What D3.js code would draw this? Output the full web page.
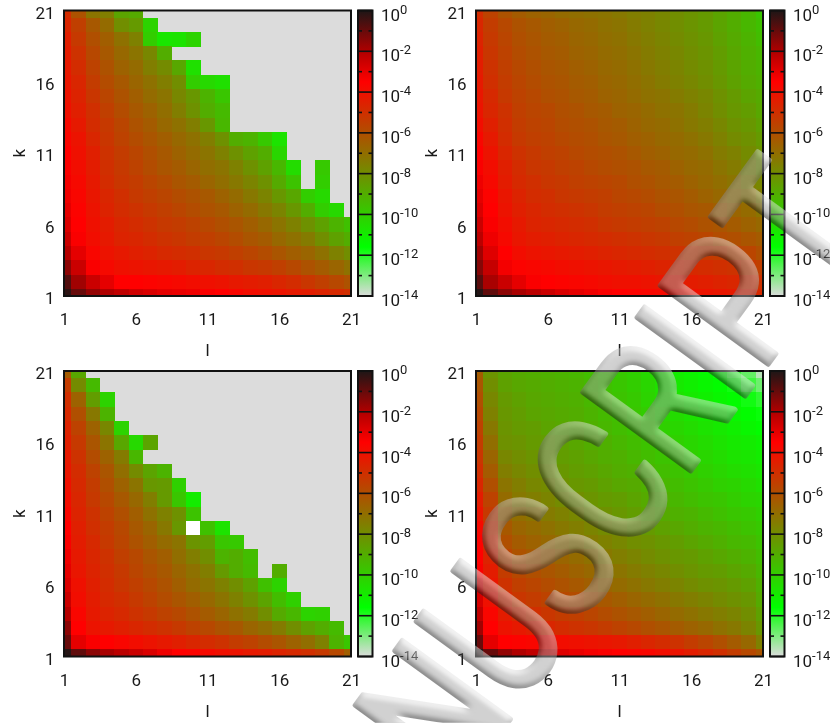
<!DOCTYPE html>
<html>
<head>
<meta charset="utf-8">
<title>heatmaps</title>
<style>
body { margin: 0; background: white; }
svg { display: block; }
text { font-family: Roboto, sans-serif; fill: #1a1a1a; }
.tick text { font-size: 17px; }
.soft { filter: blur(0.45px); }
</style>
</head>
<body>
<svg width="830" height="723"></svg>
<script src="https://cdnjs.cloudflare.com/ajax/libs/d3/7.8.5/d3.min.js"></script>
<script>
// every cell is -log10(value), rows run from k=21 down to k=1, columns from l=1
// 14 = off the bottom of the scale (grey), null = no value (white)
// rows shorter than 21 just stop where the grey area starts
var topLeft = [
  [4.9,6.1,7.2,7.5,8.7,8.9],
  [4.7,5.5,6.3,6.9,8.0,8.4,10.2],
  [4.5,5.3,6.0,6.5,7.1,7.6,10.0,10.8,10.7,10.2],
  [4.4,5.1,5.8,6.3,6.8,7.2,7.8,9.0],
  [4.3,4.9,5.6,6.1,6.6,6.9,7.5,7.9,8.8,10.6],
  [4.2,4.7,5.4,5.9,6.3,6.7,7.1,7.5,8.0,10.0,10.4,10.6],
  [4.1,4.6,5.2,5.7,6.1,6.5,6.9,7.2,7.8,8.3,9.2,9.8],
  [4.0,4.5,5.0,5.5,5.9,6.3,6.6,7.0,7.5,8.1,9.0,9.4],
  [3.8,4.3,4.9,5.3,5.7,6.1,6.4,6.8,7.1,7.5,8.3,9.3],
  [3.7,4.1,4.7,5.2,5.6,5.9,6.2,6.5,6.8,7.1,7.5,8.1,9.0,9.2,9.9,10.7],
  [3.5,4.0,4.5,5.1,5.4,5.7,6.0,6.3,6.6,6.9,7.2,7.6,8.1,8.6,9.0,10.3],
  [3.4,3.9,4.4,5.0,5.3,5.6,5.9,6.2,6.4,6.7,7.0,7.2,7.6,8.1,8.6,9.3,10.5,14,9.9],
  [3.3,3.8,4.3,4.9,5.2,5.4,5.7,5.9,6.2,6.4,6.7,7.0,7.3,7.7,8.1,8.9,9.7,14,10.0],
  [3.2,3.7,4.2,4.7,5.0,5.3,5.5,5.7,5.9,6.1,6.3,6.6,6.9,7.3,7.7,8.3,8.8,10.0,10.4],
  [3.0,3.6,4.1,4.6,4.9,5.1,5.3,5.5,5.7,5.9,6.1,6.3,6.6,6.9,7.3,7.7,8.3,9.0,10.0,10.4],
  [2.8,3.5,4.0,4.4,4.7,4.9,5.1,5.3,5.4,5.6,5.8,6.0,6.2,6.5,6.8,7.2,7.6,8.1,8.6,9.2,9.6],
  [2.5,3.4,3.9,4.3,4.6,4.7,4.9,5.1,5.2,5.4,5.5,5.7,5.9,6.2,6.4,6.8,7.1,7.4,8.0,8.6,9.0],
  [2.1,3.0,3.7,4.1,4.3,4.5,4.6,4.8,4.9,5.0,5.2,5.3,5.5,5.7,5.9,6.2,6.5,6.7,7.1,7.6,8.0],
  [1.5,2.5,3.4,3.8,4.0,4.1,4.2,4.3,4.4,4.6,4.7,4.9,5.0,5.2,5.3,5.5,5.8,6.1,6.4,6.7,7.1],
  [0.7,1.8,2.5,3.0,3.5,3.5,3.6,3.7,3.8,3.9,4.0,4.1,4.3,4.4,4.5,4.7,4.9,5.2,5.5,5.8,6.1],
  [0.2,1.0,1.6,2.0,2.3,2.6,2.8,3.0,3.1,3.2,3.4,3.5,3.7,3.9,4.0,4.1,4.3,4.4,4.6,4.8,5.0]
];

var topRight = [
  [4.9,5.6,6.1,6.4,6.6,6.7,6.9,7.0,7.1,7.2,7.3,7.5,7.6,7.8,8.0,8.2,8.4,8.7,9.0,9.3,9.8],
  [4.7,5.4,5.8,6.1,6.3,6.5,6.6,6.8,6.9,7.1,7.2,7.4,7.6,7.8,8.0,8.2,8.4,8.7,9.0,9.3,9.6],
  [4.6,5.3,5.7,6.0,6.2,6.4,6.5,6.7,6.8,7.0,7.1,7.3,7.5,7.7,7.9,8.1,8.3,8.6,8.9,9.2,9.5],
  [4.5,5.2,5.6,5.9,6.1,6.3,6.4,6.6,6.7,6.9,7.0,7.2,7.4,7.6,7.8,8.0,8.2,8.5,8.8,9.1,9.3],
  [4.4,5.1,5.5,5.8,6.0,6.2,6.3,6.5,6.6,6.8,6.9,7.1,7.3,7.5,7.7,7.9,8.1,8.4,8.7,9.0,9.2],
  [4.3,5.0,5.4,5.7,5.9,6.1,6.2,6.4,6.5,6.7,6.8,7.0,7.2,7.4,7.6,7.8,8.0,8.3,8.6,8.9,9.1],
  [4.2,4.8,5.3,5.6,5.8,6.0,6.1,6.3,6.4,6.6,6.7,6.9,7.1,7.2,7.4,7.6,7.8,8.1,8.4,8.7,8.9],
  [4.1,4.7,5.1,5.5,5.7,5.8,6.0,6.1,6.3,6.4,6.6,6.7,6.9,7.1,7.2,7.4,7.7,8.0,8.3,8.5,8.8],
  [3.9,4.5,5.0,5.4,5.6,5.7,5.9,6.0,6.1,6.3,6.4,6.6,6.8,6.9,7.1,7.3,7.5,7.8,8.1,8.3,8.6],
  [3.7,4.3,4.9,5.3,5.5,5.6,5.8,5.9,6.0,6.2,6.3,6.5,6.6,6.8,6.9,7.1,7.3,7.6,7.9,8.1,8.4],
  [3.5,4.1,4.7,5.1,5.3,5.5,5.6,5.8,5.9,6.0,6.1,6.3,6.5,6.6,6.8,6.9,7.1,7.4,7.6,7.9,8.2],
  [3.4,3.9,4.5,4.9,5.2,5.3,5.5,5.6,5.8,5.9,6.0,6.1,6.3,6.4,6.6,6.8,6.9,7.2,7.4,7.7,8.0],
  [3.2,3.8,4.4,4.8,5.0,5.2,5.3,5.5,5.6,5.7,5.8,6.0,6.1,6.3,6.4,6.6,6.8,7.0,7.2,7.5,7.8],
  [3.0,3.6,4.2,4.6,4.9,5.0,5.2,5.3,5.4,5.5,5.7,5.8,5.9,6.1,6.2,6.4,6.6,6.8,7.0,7.2,7.5],
  [2.8,3.5,4.1,4.5,4.7,4.9,5.0,5.1,5.2,5.4,5.5,5.6,5.7,5.9,6.0,6.2,6.3,6.5,6.7,6.9,7.2],
  [2.5,3.4,3.9,4.3,4.6,4.7,4.8,4.9,5.0,5.2,5.3,5.4,5.5,5.6,5.8,5.9,6.1,6.2,6.4,6.6,6.8],
  [2.2,3.2,3.8,4.2,4.4,4.5,4.6,4.7,4.8,4.9,5.0,5.1,5.2,5.3,5.5,5.6,5.7,5.9,6.0,6.2,6.4],
  [1.8,2.9,3.5,3.9,4.1,4.2,4.3,4.4,4.5,4.6,4.7,4.8,4.9,5.0,5.1,5.2,5.3,5.4,5.6,5.7,6.0],
  [1.4,2.4,3.3,3.6,3.7,3.8,3.9,4.0,4.1,4.2,4.3,4.4,4.5,4.6,4.7,4.8,4.9,5.0,5.1,5.3,5.5],
  [0.8,1.9,2.5,3.0,3.4,3.5,3.6,3.7,3.8,3.9,4.0,4.0,4.1,4.2,4.3,4.4,4.5,4.6,4.7,4.9,5.1],
  [0.1,0.9,1.5,1.9,2.2,2.5,2.8,3.0,3.2,3.4,3.5,3.6,3.7,3.8,3.9,4.0,4.1,4.2,4.3,4.5,4.8]
];

var bottomLeft = [
  [6.4,8.8],
  [5.4,7.9,9.4],
  [5.0,6.6,8.5,10.2],
  [4.8,6.0,7.3,9.2],
  [4.6,5.6,6.6,7.8,10.2],
  [4.5,5.3,6.2,7.2,8.8,10.4,8.7],
  [4.3,5.1,5.9,6.6,7.4,9.3],
  [4.2,4.9,5.6,6.2,7.0,7.9,8.7,9.2],
  [4.0,4.8,5.4,6.0,6.6,7.2,8.3,8.4,10.1],
  [3.9,4.7,5.3,5.8,6.3,6.8,7.5,8.4,9.8,11.0],
  [3.7,4.6,5.1,5.6,6.0,6.5,7.1,7.6,8.1,9.7],
  [3.5,4.5,5.0,5.4,5.8,6.3,6.7,7.3,8.3,null,9.6,10.7],
  [3.4,4.4,4.8,5.3,5.7,6.1,6.5,6.9,7.2,8.2,8.5,9.8,9.9],
  [3.2,4.3,4.7,5.1,5.5,5.8,6.2,6.5,7.0,7.5,8.0,9.2,9.0,9.5],
  [3.0,4.2,4.6,5.0,5.3,5.7,6.0,6.3,6.7,7.1,7.5,8.4,9.0,9.4,14,9.0],
  [2.8,4.0,4.5,4.9,5.2,5.5,5.8,6.1,6.5,6.9,7.2,7.6,8.0,8.6,9.6,10.2],
  [2.5,3.9,4.4,4.8,5.0,5.3,5.6,5.9,6.2,6.5,6.8,7.2,7.6,8.1,8.7,9.5,10.1],
  [2.1,3.7,4.3,4.6,4.8,5.1,5.3,5.6,5.8,6.1,6.4,6.7,7.1,7.4,8.0,8.9,9.3,10.2,10.1],
  [1.5,3.5,4.1,4.3,4.5,4.7,4.9,5.1,5.3,5.6,5.8,6.1,6.3,6.7,7.0,7.4,8.0,8.6,9.0,9.4],
  [1.0,3.0,3.4,3.5,3.7,3.9,4.1,4.3,4.5,4.7,4.9,5.1,5.4,5.6,5.9,6.2,6.6,7.0,7.6,9.2,9.8],
  [0.1,0.9,1.5,1.9,2.2,2.5,2.8,3.2,3.5,3.6,3.8,4.0,4.1,4.3,4.4,4.6,4.8,5.0,5.3,5.8,6.5]
];

var bottomRight = [
  [6.4,8.2,8.7,8.9,9.0,9.1,9.2,9.3,9.5,9.7,9.9,10.1,10.4,10.7,11.0,11.2,11.4,11.7,12.1,12.7,13.6],
  [6.2,8.0,8.6,8.8,8.9,9.0,9.1,9.2,9.4,9.6,9.8,10.0,10.3,10.6,10.9,11.1,11.3,11.5,11.8,12.3,12.8],
  [6.0,7.8,8.4,8.6,8.8,8.9,9.0,9.1,9.3,9.5,9.7,9.9,10.2,10.5,10.7,10.9,11.1,11.3,11.5,11.8,12.1],
  [5.8,7.6,8.3,8.5,8.7,8.8,8.9,9.0,9.2,9.4,9.6,9.8,10.0,10.3,10.5,10.7,10.9,11.1,11.3,11.5,11.7],
  [5.6,7.3,8.2,8.4,8.5,8.7,8.8,8.9,9.1,9.3,9.5,9.7,9.9,10.1,10.3,10.5,10.7,10.9,11.1,11.3,11.5],
  [5.4,7.0,8.1,8.2,8.4,8.5,8.6,8.8,9.0,9.1,9.3,9.5,9.7,9.9,10.1,10.3,10.5,10.7,10.9,11.0,11.2],
  [5.2,6.7,7.8,8.0,8.2,8.3,8.5,8.6,8.8,9.0,9.1,9.3,9.5,9.7,9.9,10.1,10.3,10.5,10.7,10.8,11.0],
  [5.0,6.4,7.5,7.8,8.0,8.1,8.3,8.5,8.6,8.8,9.0,9.1,9.3,9.5,9.7,9.9,10.1,10.3,10.5,10.6,10.8],
  [4.7,6.0,7.2,7.5,7.8,7.9,8.1,8.3,8.4,8.6,8.8,8.9,9.1,9.3,9.5,9.7,9.9,10.1,10.2,10.4,10.6],
  [4.4,5.6,6.9,7.3,7.5,7.7,7.9,8.0,8.2,8.4,8.5,8.7,8.9,9.1,9.3,9.5,9.7,9.8,10.0,10.2,10.3],
  [4.1,5.3,6.6,7.0,7.2,7.4,7.6,7.8,8.0,8.1,8.3,8.5,8.7,8.9,9.1,9.2,9.4,9.6,9.8,9.9,10.1],
  [3.8,5.0,6.3,6.7,6.9,7.1,7.3,7.5,7.7,7.9,8.0,8.2,8.4,8.6,8.8,9.0,9.2,9.3,9.5,9.7,9.9],
  [3.6,4.8,6.0,6.4,6.6,6.8,7.0,7.2,7.4,7.6,7.8,8.0,8.1,8.3,8.5,8.7,8.9,9.1,9.3,9.4,9.7],
  [3.5,4.6,5.7,6.1,6.3,6.5,6.7,6.9,7.1,7.3,7.5,7.7,7.9,8.1,8.3,8.4,8.6,8.8,9.0,9.2,9.5],
  [3.4,4.4,5.4,5.8,6.0,6.2,6.4,6.6,6.8,7.0,7.2,7.4,7.6,7.8,8.0,8.2,8.4,8.5,8.7,8.9,9.3],
  [3.1,4.2,5.1,5.5,5.7,5.9,6.1,6.3,6.5,6.7,6.9,7.1,7.3,7.5,7.7,7.9,8.1,8.2,8.4,8.6,9.1],
  [2.7,4.0,4.8,5.2,5.4,5.6,5.8,5.9,6.1,6.3,6.5,6.7,6.9,7.1,7.3,7.5,7.7,7.9,8.1,8.3,8.9],
  [2.3,3.7,4.4,4.8,5.0,5.2,5.4,5.5,5.7,5.9,6.1,6.3,6.5,6.7,6.9,7.1,7.3,7.5,7.7,8.0,8.6],
  [1.8,3.5,4.1,4.3,4.5,4.7,4.9,5.1,5.2,5.4,5.6,5.8,6.0,6.2,6.4,6.6,6.8,7.1,7.3,7.7,8.3],
  [1.0,3.0,3.5,3.6,3.7,3.8,3.9,4.0,4.1,4.2,4.3,4.5,4.7,4.9,5.1,5.4,5.7,6.0,6.4,6.8,7.6],
  [0.1,1.0,1.6,2.0,2.3,2.6,2.9,3.1,3.3,3.4,3.5,3.6,3.7,3.9,4.1,4.4,4.7,5.0,5.4,5.8,6.2]
];

var axisTicks = [1, 6, 11, 16, 21];
var barMajor = [0, 2, 4, 6, 8, 10, 12, 14];
var barMinor = [1, 3, 5, 7, 9, 11, 13];

var colorStops = [0, 2, 3.5, 11.6, 14];
var colorValues = ["#1e1616", "#b00000", "#ff0000", "#00ff00", "#dcdcdc"];
var color = d3.scaleLinear().domain(colorStops).range(colorValues);

var svg = d3.select("svg");
var defs = svg.append("defs");

// left hand panels lose the end of their colour bar labels where the next panel starts
defs.append("clipPath").attr("id", "pageLeft")
  .append("rect").attr("x", 0).attr("y", 0).attr("width", 415).attr("height", 723);

var chart = svg.append("g").attr("class", "soft");

function drawPanel(id, rows, left, top, clipLabels) {
  var w = 287, h = 285.5;
  var x = d3.scaleLinear().domain([1, 21]).range([left, left + w]);
  var y = d3.scaleLinear().domain([1, 21]).range([top + h, top]);
  var g = chart.append("g");

  defs.append("clipPath").attr("id", id)
    .append("rect").attr("x", left).attr("y", top).attr("width", w).attr("height", h);

  var cells = [];
  rows.forEach(function(row, r) {
    row.forEach(function(v, c) {
      cells.push({ l: c + 1, k: 21 - r, v: v });
    });
  });

  var plot = g.append("g").attr("clip-path", "url(#" + id + ")");
  plot.append("rect")
    .attr("x", left).attr("y", top).attr("width", w).attr("height", h)
    .attr("fill", color(14));
  plot.selectAll("rect.cell")
    .data(cells)
    .enter()
    .append("rect")
    .attr("class", "cell")
    .attr("shape-rendering", "crispEdges")
    .attr("x", function(d) { return x(d.l - 0.5); })
    .attr("y", function(d) { return y(d.k + 0.5); })
    .attr("width", function(d) { return x(d.l + 0.5) - x(d.l - 0.5) + 0.5; })
    .attr("height", function(d) { return y(d.k - 0.5) - y(d.k + 0.5) + 0.5; })
    .attr("fill", function(d) { return d.v === null ? "white" : color(d.v); });

  g.append("rect")
    .attr("x", left).attr("y", top).attr("width", w).attr("height", h)
    .attr("fill", "none").attr("stroke", "#111").attr("stroke-width", 2);

  // axes
  var bottomAxis = g.append("g")
    .attr("transform", "translate(0," + (top + h) + ")")
    .call(d3.axisBottom(x).tickValues(axisTicks).tickSize(0).tickFormat(d3.format("d")));
  bottomAxis.select(".domain").remove();
  bottomAxis.selectAll("text").attr("y", 29).attr("dy", 0);

  var leftAxis = g.append("g")
    .attr("transform", "translate(" + (left - 9.5) + ",0)")
    .call(d3.axisLeft(y).tickValues(axisTicks).tickSize(0).tickPadding(0).tickFormat(d3.format("d")));
  leftAxis.select(".domain").remove();
  leftAxis.selectAll("text").attr("dy", 7.5);

  g.append("text")
    .attr("x", left + w / 2).attr("y", top + h + 60)
    .attr("text-anchor", "middle").attr("font-size", 17)
    .text("l");
  g.append("text")
    .attr("transform", "translate(" + (left - 39) + "," + (top + h / 2) + ") rotate(-90)")
    .attr("text-anchor", "middle").attr("font-size", 17)
    .text("k");

  // colour bar
  var barX = left + 294, barW = 14.5;
  var bar = d3.scaleLinear().domain([0, 14]).range([top, top + h]);
  var gradId = id + "Grad";
  var grad = defs.append("linearGradient").attr("id", gradId)
    .attr("x1", 0).attr("x2", 0).attr("y1", 0).attr("y2", 1);
  grad.selectAll("stop")
    .data(colorStops)
    .enter()
    .append("stop")
    .attr("offset", function(d) { return d / 14; })
    .attr("stop-color", function(d) { return color(d); });

  g.append("rect")
    .attr("x", barX).attr("y", top).attr("width", barW).attr("height", h)
    .attr("fill", "url(#" + gradId + ")");

  g.append("g").selectAll("line")
    .data(barMajor)
    .enter()
    .append("line")
    .attr("x1", barX).attr("x2", barX + barW)
    .attr("y1", function(d) { return bar(d); })
    .attr("y2", function(d) { return bar(d); })
    .attr("stroke", "#111").attr("stroke-width", 1.6);

  [[barX, barX + 4], [barX + barW - 4, barX + barW]].forEach(function(ends) {
    g.append("g").selectAll("line")
      .data(barMinor)
      .enter()
      .append("line")
      .attr("x1", ends[0]).attr("x2", ends[1])
      .attr("y1", function(d) { return bar(d); })
      .attr("y2", function(d) { return bar(d); })
      .attr("stroke", "#111").attr("stroke-width", 1.6);
  });

  g.append("rect")
    .attr("x", barX).attr("y", top).attr("width", barW).attr("height", h)
    .attr("fill", "none").attr("stroke", "#111").attr("stroke-width", 2);

  var barAxis = g.append("g")
    .attr("transform", "translate(" + (barX + barW + 8.5) + ",0)")
    .call(d3.axisRight(bar).tickValues(barMajor).tickSize(0).tickPadding(0).tickFormat(function() { return "10"; }));
  barAxis.select(".domain").remove();
  if (clipLabels) barAxis.attr("clip-path", "url(#pageLeft)");
  barAxis.selectAll("text")
    .attr("dy", 9.5)
    .append("tspan")
    .attr("dy", -7)
    .attr("font-size", 13)
    .text(function(d) { return d === 0 ? "0" : "-" + d; });
}

drawPanel("panelA", topLeft, 64, 10.5, true);
drawPanel("panelB", topRight, 476, 10.5, false);
drawPanel("panelC", bottomLeft, 64, 371, true);
drawPanel("panelD", bottomRight, 476, 371, false);

// MANUSCRIPT stamp laid over the whole page
var emboss = defs.append("filter").attr("id", "emboss")
  .attr("filterUnits", "userSpaceOnUse")
  .attr("x", 0).attr("y", 0).attr("width", 830).attr("height", 723)
  .attr("color-interpolation-filters", "sRGB");
emboss.append("feGaussianBlur").attr("in", "SourceAlpha").attr("stdDeviation", 3.2).attr("result", "bump");
var lit = emboss.append("feDiffuseLighting").attr("in", "bump")
  .attr("surfaceScale", 3.2).attr("diffuseConstant", 0.9)
  .attr("lighting-color", "white").attr("result", "lit");
lit.append("feDistantLight").attr("azimuth", 300).attr("elevation", 45);
emboss.append("feComposite").attr("in", "lit").attr("in2", "SourceAlpha").attr("operator", "in").attr("result", "shape");
var fade = emboss.append("feComponentTransfer").attr("in", "shape");
fade.append("feFuncA").attr("type", "linear").attr("slope", 0.5);

svg.append("g")
  .attr("filter", "url(#emboss)")
  .append("text")
  .attr("transform", "translate(868,227) rotate(-54) scale(0.79,1)")
  .attr("text-anchor", "end")
  .attr("font-family", "'Liberation Sans', sans-serif")
  .attr("font-size", 188)
  .attr("stroke", "black")
  .attr("stroke-width", 5)
  .attr("stroke-linejoin", "round")
  .text("MANUSCRIPT");
</script>
</body>
</html>
